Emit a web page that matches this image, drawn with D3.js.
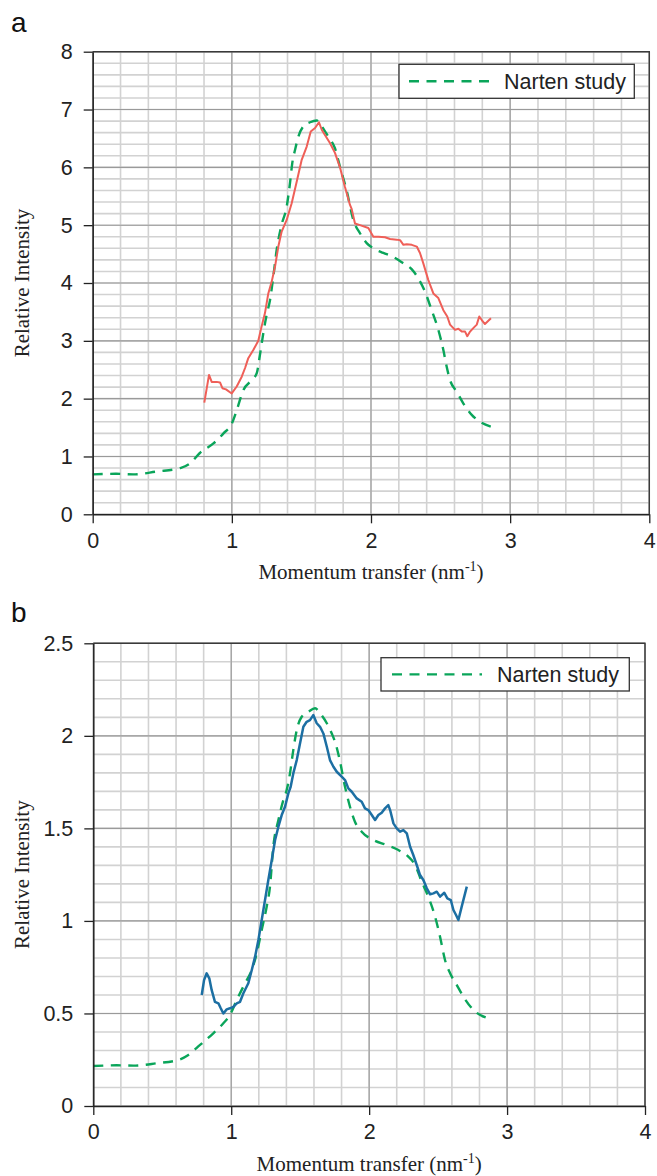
<!DOCTYPE html>
<html>
<head>
<meta charset="utf-8">
<script src="https://cdn.jsdelivr.net/npm/d3@7"></script>
<style>
  html, body { margin: 0; padding: 0; background: #fff; }
  svg { display: block; }
</style>
</head>
<body>
<svg id="chart" width="657" height="1176"></svg>
<script>
// ---- Data -------------------------------------------------------------
const xTicks = [0, 1, 2, 3, 4];
const aYTicks = [0, 1, 2, 3, 4, 5, 6, 7, 8];
const bYTicks = [0, 0.5, 1, 1.5, 2, 2.5];
const legendLabel = "Narten study";

// Panel a: measured curve
const aMeasQ = [0.802,0.836,0.855,0.891,0.915,0.932,0.958,0.999,1.035,1.071,1.095,1.118,1.154,1.190,1.214,1.238,1.262,1.286,1.310,1.334,1.358,1.394,1.430,1.466,1.502,1.538,1.567,1.598,1.626,1.646,1.669,1.705,1.741,1.777,1.813,1.849,1.861,1.885,1.921,1.981,2.017,2.053,2.101,2.137,2.185,2.209,2.233,2.257,2.293,2.329,2.352,2.376,2.412,2.448,2.484,2.520,2.548,2.568,2.604,2.628,2.652,2.676,2.692,2.712,2.735,2.760,2.778,2.796,2.819,2.862];
const aMeasI = [1.93,2.41,2.29,2.29,2.28,2.18,2.16,2.09,2.21,2.38,2.53,2.70,2.84,3.00,3.25,3.48,3.82,4.02,4.28,4.63,4.89,5.09,5.38,5.75,6.13,6.36,6.62,6.68,6.78,6.65,6.56,6.42,6.25,6.00,5.66,5.35,5.28,5.03,5.00,4.95,4.80,4.80,4.79,4.76,4.75,4.74,4.66,4.67,4.66,4.63,4.52,4.34,4.05,3.82,3.74,3.53,3.42,3.28,3.19,3.21,3.16,3.16,3.08,3.16,3.22,3.28,3.42,3.36,3.29,3.39];

// Panel a: Narten reference curve
const aNartenQ = [0,0.17,0.29,0.46,0.63,0.70,0.77,0.87,0.94,1.00,1.035,1.083,1.143,1.179,1.202,1.226,1.250,1.274,1.298,1.322,1.358,1.394,1.418,1.434,1.454,1.478,1.514,1.562,1.610,1.646,1.693,1.741,1.777,1.825,1.873,1.921,1.969,2.017,2.089,2.161,2.233,2.292,2.340,2.388,2.436,2.484,2.520,2.544,2.568,2.616,2.663,2.724,2.783,2.867];
const aNartenI = [0.69,0.70,0.69,0.74,0.80,0.88,1.06,1.23,1.40,1.57,1.80,2.15,2.32,2.44,2.76,3.13,3.45,3.70,4.11,4.57,5.01,5.32,5.73,6.07,6.30,6.53,6.71,6.78,6.81,6.71,6.53,6.33,6.01,5.60,5.09,4.86,4.69,4.60,4.52,4.45,4.34,4.24,4.08,3.85,3.53,3.19,2.84,2.55,2.32,2.12,1.92,1.72,1.60,1.51];

// Panel b: measured curve
const bMeasQ = [0.786,0.803,0.822,0.841,0.858,0.882,0.907,0.924,0.943,0.967,0.991,1.015,1.040,1.064,1.088,1.124,1.149,1.173,1.197,1.221,1.245,1.269,1.294,1.318,1.342,1.366,1.390,1.414,1.431,1.450,1.475,1.499,1.523,1.547,1.571,1.595,1.620,1.644,1.668,1.693,1.716,1.741,1.765,1.801,1.825,1.849,1.874,1.910,1.946,1.970,1.994,2.019,2.043,2.067,2.091,2.115,2.139,2.152,2.176,2.200,2.224,2.248,2.273,2.297,2.320,2.345,2.369,2.393,2.418,2.442,2.466,2.490,2.514,2.545,2.567,2.592,2.611,2.630,2.647,2.671,2.708];
const bMeasI = [0.600,0.680,0.717,0.690,0.627,0.563,0.555,0.528,0.500,0.522,0.528,0.536,0.555,0.563,0.609,0.663,0.735,0.807,0.897,1.005,1.113,1.221,1.329,1.437,1.509,1.572,1.617,1.689,1.725,1.797,1.869,1.960,2.049,2.076,2.085,2.112,2.068,2.049,2.013,1.941,1.869,1.833,1.806,1.779,1.761,1.716,1.698,1.662,1.644,1.608,1.599,1.572,1.545,1.572,1.585,1.608,1.626,1.599,1.527,1.500,1.482,1.491,1.473,1.401,1.356,1.302,1.248,1.221,1.176,1.144,1.149,1.158,1.131,1.152,1.122,1.113,1.059,1.032,1.005,1.077,1.185];

// Panel b: Narten reference curve
const bNartenQ = [0,0.169,0.290,0.46,0.617,0.689,0.774,0.870,0.943,0.991,1.040,1.100,1.149,1.185,1.221,1.257,1.281,1.305,1.342,1.378,1.402,1.426,1.450,1.475,1.511,1.559,1.608,1.644,1.693,1.729,1.760,1.789,1.825,1.861,1.897,1.946,2.031,2.127,2.212,2.284,2.333,2.381,2.429,2.478,2.514,2.550,2.587,2.635,2.683,2.756,2.872];
const bNartenI = [0.216,0.220,0.218,0.231,0.249,0.276,0.330,0.393,0.447,0.492,0.573,0.663,0.735,0.825,0.951,1.077,1.185,1.401,1.545,1.653,1.707,1.797,1.923,2.031,2.103,2.130,2.149,2.122,2.068,2.013,1.950,1.860,1.725,1.617,1.536,1.482,1.437,1.410,1.383,1.347,1.302,1.212,1.131,1.023,0.915,0.789,0.717,0.654,0.591,0.519,0.472];

// ---- Styles -----------------------------------------------------------
const SANS = "'Liberation Sans', Arial, Helvetica, sans-serif";
const SERIF = "'Liberation Serif', 'Times New Roman', Times, serif";
const GREEN = "#0aa55a";

const svg = d3.select("#chart");

function zip(qs, is) { return qs.map((q, i) => [q, is[i]]); }

function drawPanel(cfg) {
  const x = d3.scaleLinear().domain([0, 4]).range([cfg.left, cfg.right]);
  const y = d3.scaleLinear().domain([0, cfg.yMax]).range([cfg.bottom, cfg.top]);
  const g = svg.append("g");

  // minor grid
  const grid = g.append("g");
  const xMinor = d3.range(0, 4.0001, 0.2);
  const yMinor = d3.range(0, cfg.yMax + 1e-6, cfg.yMinor);
  grid.selectAll(".vmin").data(xMinor).join("line")
    .attr("x1", d => x(d)).attr("x2", d => x(d))
    .attr("y1", cfg.top).attr("y2", cfg.bottom)
    .attr("stroke", "#d2d2d2").attr("stroke-width", 1.6);
  grid.selectAll(".hmin").data(yMinor).join("line")
    .attr("x1", cfg.left).attr("x2", cfg.right)
    .attr("y1", d => y(d)).attr("y2", d => y(d))
    .attr("stroke", "#d2d2d2").attr("stroke-width", 1.6);
  // major grid
  grid.selectAll(".vmaj").data(xTicks).join("line")
    .attr("x1", d => x(d)).attr("x2", d => x(d))
    .attr("y1", cfg.top).attr("y2", cfg.bottom)
    .attr("stroke", "#9a9a9a").attr("stroke-width", 1.1);
  grid.selectAll(".hmaj").data(cfg.yTicks).join("line")
    .attr("x1", cfg.left).attr("x2", cfg.right)
    .attr("y1", d => y(d)).attr("y2", d => y(d))
    .attr("stroke", "#9a9a9a").attr("stroke-width", 1.1);

  // frame: top and right edges
  g.append("path")
    .attr("d", `M${cfg.left},${cfg.top}H${cfg.right}V${cfg.bottom}`)
    .attr("fill", "none").attr("stroke", "#3a3a3a").attr("stroke-width", 1.4);

  // curves
  g.append("path")
    .datum(zip(cfg.nartenQ, cfg.nartenI))
    .attr("d", d3.line().x(d => x(d[0])).y(d => y(d[1])).curve(d3.curveMonotoneX))
    .attr("fill", "none").attr("stroke", GREEN)
    .attr("stroke-width", 2.4).attr("stroke-dasharray", "10,7.5");
  g.append("path")
    .datum(zip(cfg.measQ, cfg.measI))
    .attr("d", d3.line().x(d => x(d[0])).y(d => y(d[1])))
    .attr("fill", "none").attr("stroke", cfg.color)
    .attr("stroke-width", cfg.measWidth).attr("stroke-linejoin", "round");

  // axes
  const ax = g.append("g").attr("transform", `translate(0,${cfg.bottom})`)
    .call(d3.axisBottom(x).tickValues(xTicks).tickFormat(d3.format("~g"))
      .tickSize(9).tickSizeOuter(0).tickPadding(9));
  const ay = g.append("g").attr("transform", `translate(${cfg.left},0)`)
    .call(d3.axisLeft(y).tickValues(cfg.yTicks).tickFormat(d3.format("~g"))
      .tickSize(9).tickSizeOuter(0).tickPadding(11));
  [ax, ay].forEach(a => {
    a.select(".domain").attr("stroke", "#222").attr("stroke-width", 1.5);
    a.selectAll(".tick line").attr("stroke", "#222").attr("stroke-width", 1.3);
    a.selectAll(".tick text").attr("fill", "#222")
      .style("font-family", SANS).style("font-size", "21.5px");
  });

  // axis titles
  const xt = g.append("text")
    .attr("x", (cfg.left + cfg.right) / 2).attr("y", cfg.xTitleY)
    .attr("text-anchor", "middle")
    .style("font-family", SERIF).style("font-size", "21px").attr("fill", "#222");
  xt.append("tspan").text("Momentum transfer (nm");
  xt.append("tspan").text("-1").attr("dy", -8).style("font-size", "14px");
  xt.append("tspan").text(")").attr("dy", 8);

  g.append("text")
    .attr("transform", `translate(29,${(cfg.top + cfg.bottom) / 2}) rotate(-90)`)
    .attr("text-anchor", "middle")
    .style("font-family", SERIF).style("font-size", "21px").attr("fill", "#222")
    .text("Relative Intensity");

  // panel letter
  g.append("text").attr("x", 11).attr("y", cfg.letterY)
    .style("font-family", SANS).style("font-size", "28px").attr("fill", "#111")
    .text(cfg.letter);

  // legend
  const lg = g.append("g");
  lg.append("rect")
    .attr("x", cfg.legX).attr("y", cfg.legY).attr("width", cfg.legW).attr("height", cfg.legH)
    .attr("fill", "#fff").attr("stroke", "#333").attr("stroke-width", 1.3);
  lg.append("line")
    .attr("x1", cfg.legX + cfg.legLine[0]).attr("x2", cfg.legX + cfg.legLine[1])
    .attr("y1", cfg.legY + cfg.legH / 2).attr("y2", cfg.legY + cfg.legH / 2)
    .attr("stroke", GREEN).attr("stroke-width", 2.4).attr("stroke-dasharray", "10,7.5");
  lg.append("text")
    .attr("x", cfg.legX + cfg.legText).attr("y", cfg.legY + cfg.legH / 2 + 7.5)
    .style("font-family", SANS).style("font-size", "21.5px").attr("fill", "#222")
    .text(legendLabel);
}

drawPanel({
  letter: "a", letterY: 32,
  left: 92.7, right: 649.3, top: 51.7, bottom: 514.3,
  yMax: 8, yMinor: 0.2, yTicks: aYTicks,
  measQ: aMeasQ, measI: aMeasI, color: "#ef5f58", measWidth: 2,
  nartenQ: aNartenQ, nartenI: aNartenI,
  xTitleY: 579,
  legX: 399, legY: 64.3, legW: 235.3, legH: 34, legLine: [10, 94], legText: 105
});

drawPanel({
  letter: "b", letterY: 622,
  left: 93.3, right: 645, top: 643.3, bottom: 1106,
  yMax: 2.5, yMinor: 0.1, yTicks: bYTicks,
  measQ: bMeasQ, measI: bMeasI, color: "#1c6fa3", measWidth: 2.5,
  nartenQ: bNartenQ, nartenI: bNartenI,
  xTitleY: 1171,
  legX: 381, legY: 657.7, legW: 248.3, legH: 33.3, legLine: [11, 101], legText: 116
});
</script>
</body>
</html>
